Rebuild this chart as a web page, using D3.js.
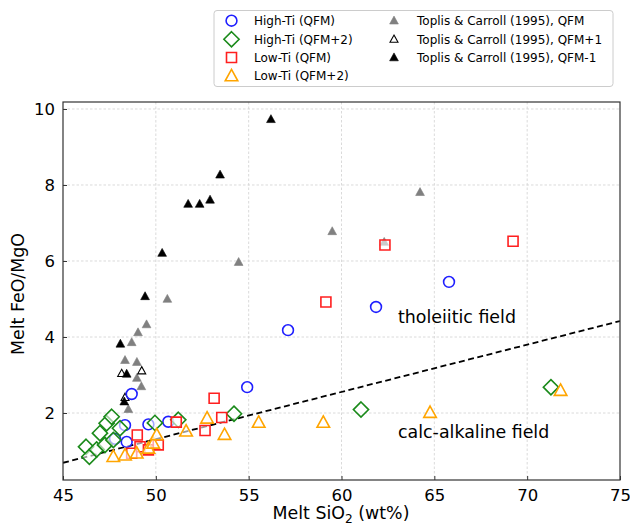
<!DOCTYPE html>
<html><head><meta charset="utf-8">
<script src="https://cdn.jsdelivr.net/npm/d3@7"></script>
<style>body{margin:0;background:#fff}svg{display:block}text{font-family:"DejaVu Sans",sans-serif;fill:#000}</style>
</head><body>
<script>
// ---- data ----
const xTicks = [45,50,55,60,65,70,75];
const yTicks = [2,4,6,8,10];
const highTiQFM   = [[65.79,5.45],[61.86,4.79],[57.12,4.18],[54.92,2.68],[48.7,2.5],[48.34,1.68],[49.6,1.70],[50.67,1.77],[48.43,1.24],[47.8,1.32]];
const highTiQFM2  = [[46.24,1.11],[46.42,0.85],[46.81,1.04],[46.99,1.47],[47.26,1.16],[47.35,1.73],[47.62,1.90],[47.71,1.29],[48.07,1.60],[49.95,1.74],[51.21,1.82],[54.21,1.98],[61.05,2.09],[71.28,2.68]];
const lowTiQFM    = [[62.34,6.42],[69.24,6.52],[59.16,4.92],[53.14,2.39],[53.55,1.88],[52.65,1.54],[51.1,1.76],[49.0,1.42],[49.15,1.11],[48.7,0.94],[49.6,1.03],[50.13,1.16]];
const lowTiQFM2   = [[71.8,2.59],[64.77,2.01],[59.02,1.75],[55.54,1.75],[53.7,1.43],[52.76,1.86],[51.63,1.52],[47.71,0.85],[48.34,0.89],[48.97,0.94],[49.6,1.07],[49.86,1.2],[50.05,1.42]];
const toplisQFM   = [[64.23,7.81],[59.5,6.78],[62.3,6.5],[54.46,5.97],[50.62,5.0],[49.5,4.33],[49.04,4.12],[48.7,3.86],[48.34,3.39],[48.98,3.34],[48.98,2.92],[49.22,2.70],[48.52,2.10]];
const toplisQFMp1 = [[48.16,3.04],[49.24,3.11],[48.34,2.41]];
const toplisQFMm1 = [[56.2,9.73],[53.46,8.27],[52.92,7.61],[52.36,7.5],[51.74,7.5],[50.34,6.21],[49.42,5.07],[48.09,3.82],[48.43,3.03],[48.3,2.3]];
const divideLine  = [[45,0.69],[75,4.42]];
const seriesNames = ["High-Ti (QFM)","High-Ti (QFM+2)","Low-Ti (QFM)","Low-Ti (QFM+2)",
  "Toplis & Carroll (1995), QFM","Toplis & Carroll (1995), QFM+1","Toplis & Carroll (1995), QFM-1"];

// ---- layout ----
const W=630,H=528;
const svg=d3.select("body").append("svg").attr("width",W).attr("height",H);
const x=d3.scaleLinear().domain([45,75]).range([63,620]);
const y=d3.scaleLinear().domain([0.237,10.184]).range([480,102]);

// grid
const g=svg.append("g");
g.selectAll(".gx").data(xTicks.slice(1,-1)).join("line")
 .attr("x1",d=>x(d)).attr("x2",d=>x(d)).attr("y1",102).attr("y2",480)
 .attr("stroke","#d0d0d0").attr("stroke-width",0.8).attr("stroke-dasharray","2.5,2");
g.selectAll(".gy").data(yTicks).join("line")
 .attr("y1",d=>y(d)).attr("y2",d=>y(d)).attr("x1",63).attr("x2",620)
 .attr("stroke","#d0d0d0").attr("stroke-width",0.8).attr("stroke-dasharray","2.5,2");

// clip
svg.append("clipPath").attr("id","clip").append("rect").attr("x",63).attr("y",102).attr("width",557).attr("height",378);
const plot=svg.append("g").attr("clip-path","url(#clip)");

// dividing line
plot.append("path").datum(divideLine)
 .attr("d",d3.line().x(d=>x(d[0])).y(d=>y(d[1])))
 .attr("fill","none").attr("stroke","#000").attr("stroke-width",1.8).attr("stroke-dasharray","6,3.5");

function markerPath(type,s){
  const p=d3.path();
  if(type==="circle"){p.arc(0,0,s,0,2*Math.PI);p.closePath();}
  else if(type==="diamond"){p.moveTo(0,-s);p.lineTo(s,0);p.lineTo(0,s);p.lineTo(-s,0);p.closePath();}
  else if(type==="square"){p.rect(-s,-s,2*s,2*s);}
  else if(type==="tri"){p.moveTo(0,-s);p.lineTo(s*0.95,s*0.72);p.lineTo(-s*0.95,s*0.72);p.closePath();}
  return p.toString();
}
const styles=[
 {data:highTiQFM, type:"circle", s:5.4, stroke:"#1f1fff", fill:"rgba(255,255,255,0.6)", sw:1.6},
 {data:highTiQFM2,type:"diamond",s:7.6, stroke:"#1a8a1a", fill:"rgba(255,255,255,0.6)", sw:1.6},
 {data:lowTiQFM,  type:"square", s:5.0, stroke:"#ff1f1f", fill:"rgba(255,255,255,0.6)", sw:1.6},
 {data:lowTiQFM2, type:"tri",    s:6.6, stroke:"#ffa500", fill:"rgba(255,255,255,0.6)", sw:1.6},
 {data:toplisQFM, type:"tri",    s:4.6, stroke:"#808080", fill:"#808080", sw:0.6},
 {data:toplisQFMp1,type:"tri",   s:4.2, stroke:"#000", fill:"#fff", sw:1.1},
 {data:toplisQFMm1,type:"tri",   s:4.6, stroke:"#000", fill:"#000", sw:0.6}
];
const order=[4,5,6,0,1,2,3];
order.forEach(i=>{
  const st=styles[i];
  plot.append("g").selectAll("path").data(st.data).join("path")
   .attr("transform",d=>`translate(${x(d[0])},${y(d[1])})`)
   .attr("d",markerPath(st.type,st.s))
   .attr("fill",st.fill).attr("stroke",st.stroke).attr("stroke-width",st.sw);
});

// axes
const fs=16.5, lfs=17.4;
const ax=svg.append("g").attr("transform","translate(0,480)")
 .call(d3.axisBottom(x).tickValues(xTicks).tickSize(-4).tickPadding(9).tickFormat(d3.format("d")));
const ay=svg.append("g").attr("transform","translate(63,0)")
 .call(d3.axisLeft(y).tickValues(yTicks).tickSize(-4).tickPadding(8).tickFormat(d3.format("d")));
[ax,ay].forEach(a=>{a.select(".domain").remove();a.selectAll("text").attr("font-size",fs).attr("font-family","DejaVu Sans").attr("fill","#000");a.selectAll("line").attr("stroke","#333");});
svg.append("rect").attr("x",63).attr("y",102).attr("width",557).attr("height",378)
 .attr("fill","none").attr("stroke","#333").attr("stroke-width",1.2);

// axis labels
const xl=svg.append("text").attr("x",341).attr("y",519).attr("text-anchor","middle").attr("font-size",lfs);
xl.append("tspan").text("Melt SiO");
xl.append("tspan").attr("font-size",lfs*0.7).attr("dy",3.5).text("2");
xl.append("tspan").attr("dy",-3.5).text(" (wt%)");
svg.append("text").attr("transform","translate(24,294) rotate(-90)").attr("text-anchor","middle")
 .attr("font-size",lfs).text("Melt FeO/MgO");

// field labels
svg.append("text").attr("x",398).attr("y",323).attr("font-size",lfs).text("tholeiitic field");
svg.append("text").attr("x",398).attr("y",438).attr("font-size",lfs).text("calc-alkaline field");

// legend
const lg=svg.append("g");
lg.append("rect").attr("x",214).attr("y",10.5).attr("width",399).attr("height",76).attr("rx",3)
 .attr("fill","rgba(255,255,255,0.85)").attr("stroke","#cccccc").attr("stroke-width",1);
const rows=[20.7,39.3,57.5,76];
styles.forEach((st,i)=>{
  const col=i<4?0:1, r=i<4?i:i-4;
  const mx=col?394:231.5, tx=col?417:254, yy=rows[r];
  lg.append("path").attr("transform",`translate(${mx},${yy})`).attr("d",markerPath(st.type,st.s))
   .attr("fill",st.fill).attr("stroke",st.stroke).attr("stroke-width",st.sw);
  lg.append("text").attr("x",tx).attr("y",yy+4.3).attr("font-size",12).text(seriesNames[i]);
});
</script>
</body></html>
